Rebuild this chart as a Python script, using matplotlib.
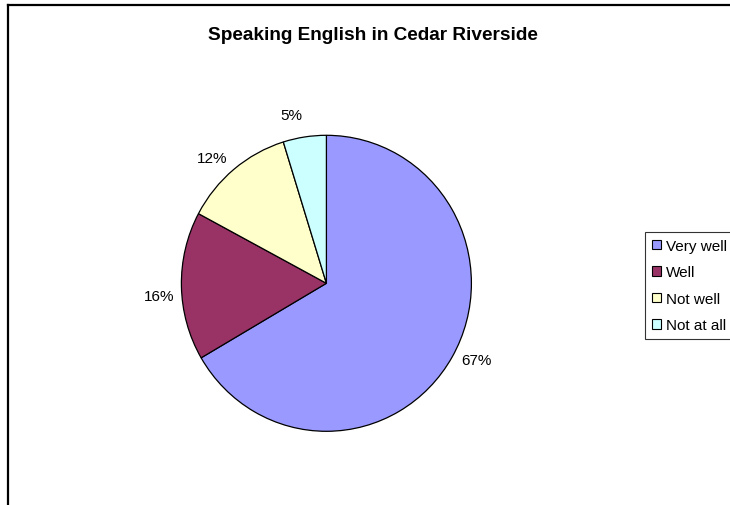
import matplotlib
matplotlib.use("Agg")
import numpy as np
import matplotlib.pyplot as plt
from matplotlib.patches import Rectangle
from matplotlib.lines import Line2D

plt.rcParams['font.family'] = ['Liberation Sans', 'DejaVu Sans']

categories = ["Very well", "Well", "Not well", "Not at all"]
values = [66.6, 16.2, 12.4, 4.8]
colors = ["#9999FF", "#993366", "#FFFFCC", "#CCFFFF"]
title = "Speaking English in Cedar Riverside"

W, H = 730, 506
fig = plt.figure(figsize=(W / 100, H / 100), dpi=100)
ax = fig.add_axes([0, 0, 1, 1])

# Excel pie is slightly taller than wide: horizontal radius 145 px, vertical 148 px
sx = 148 / 145.0
r = 148
cx, cy = 326.4 * sx, H - 284.3

wedges, texts, autotexts = ax.pie(
    values, colors=colors, startangle=90, counterclock=False,
    center=(cx, cy), radius=r, frame=True,
    autopct=lambda p: f"{p:.0f}%", pctdistance=1.16,
    wedgeprops=dict(edgecolor='black', linewidth=0.9),
    textprops=dict(fontsize=11, color='black'))

# Excel-style label placement: slightly rotated counter-clockwise from the mid-angle
for w, t in zip(wedges, autotexts):
    mid = np.deg2rad((w.theta1 + w.theta2) / 2 + 3.3)
    t.set_position((cx + 1.16 * r * np.cos(mid), cy + 1.16 * r * np.sin(mid)))
    t.set_ha('center')
    t.set_va('center')

ax.set_xlim(0, W * sx)
ax.set_ylim(0, H)
ax.set_aspect('auto')
ax.axis('off')

# outer frame (partially cut off at right and bottom)
fig.add_artist(Line2D([7.5 / W, 7.5 / W], [0, 1 - 6 / H], transform=fig.transFigure,
                      color='black', linewidth=1.6))
fig.add_artist(Line2D([7.5 / W, 1], [1 - 6 / H, 1 - 6 / H], transform=fig.transFigure,
                      color='black', linewidth=1.6))

fig.text(372.5 / W, 1 - 35 / H, title, ha='center', va='center',
         fontsize=13.7, fontweight='bold')

handles = [Rectangle((0, 0), 1, 1, facecolor=c, edgecolor='black', linewidth=0.8)
           for c in colors]
leg = fig.legend(handles, categories, loc='upper left',
                 bbox_to_anchor=(645 / W, 1 - 233 / H),
                 fontsize=11, frameon=True, fancybox=False,
                 edgecolor='black', handlelength=0.6, handleheight=0.6,
                 handletextpad=0.35, labelspacing=0.82, borderpad=0.45,
                 borderaxespad=0)
leg.get_frame().set_linewidth(0.8)

fig.savefig("out.png", dpi=100)
